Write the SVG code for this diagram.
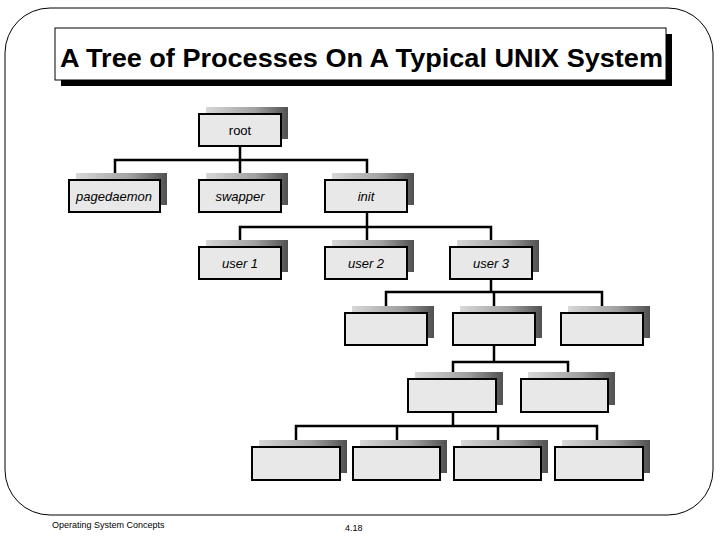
<svg xmlns="http://www.w3.org/2000/svg" width="720" height="540" viewBox="0 0 720 540">
<defs>
<linearGradient id="sg" x1="0" y1="0" x2="1" y2="0"><stop offset="0" stop-color="#d8d8d8"/><stop offset="0.6" stop-color="#a0a0a0"/><stop offset="1" stop-color="#505050"/></linearGradient>
<style>
.sh{fill:url(#sg)}
.bx{fill:#e8e8e8;stroke:#000;stroke-width:2}
.t{font-family:"Liberation Sans",Arial,sans-serif;font-size:13px;font-style:italic;text-anchor:middle}
.c{fill:none;stroke:#000;stroke-width:2.5}
</style>
</defs>
<rect width="720" height="540" fill="#fff"/>
<rect x="5" y="8" width="708" height="507" rx="45" fill="none" stroke="#000" stroke-width="1"/>
<rect x="61" y="34" width="611" height="52" fill="#000"/>
<rect x="55" y="28" width="611" height="52" fill="#fff" stroke="#000" stroke-width="1"/>
<text x="60" y="67" font-family="Liberation Sans,Arial,sans-serif" font-weight="bold" font-size="26" textLength="603" lengthAdjust="spacingAndGlyphs">A Tree of Processes On A Typical UNIX System</text>
<g id="connectors">
<path class="c" d="M240 146V160M115 180V160H367V180M240 160V180"/>
<path class="c" d="M367 212V227M240 247V227H491V247M367 227V247"/>
<path class="c" d="M491 279V292M386 313V292H602V313M494 292V313"/>
<path class="c" d="M494 345V362M453 379V362H568V379"/>
<path class="c" d="M453 412V426M296 447V426H597V447M397 426V447M498 426V447"/>
</g>
<g id="root"><rect class="sh" x="206" y="107" width="82" height="32"/><rect class="bx" x="199" y="114" width="82" height="32"/><text class="t" x="240" y="135" style="font-style:normal">root</text></g>
<g id="pagedaemon"><rect class="sh" x="76" y="173" width="91" height="32"/><rect class="bx" x="69" y="180" width="91" height="32"/><text class="t" x="114" y="201">pagedaemon</text></g>
<g id="swapper"><rect class="sh" x="206" y="173" width="82" height="32"/><rect class="bx" x="199" y="180" width="82" height="32"/><text class="t" x="240" y="201">swapper</text></g>
<g id="init"><rect class="sh" x="332" y="173" width="82" height="32"/><rect class="bx" x="325" y="180" width="82" height="32"/><text class="t" x="366" y="201">init</text></g>
<g id="user1"><rect class="sh" x="206" y="240" width="82" height="32"/><rect class="bx" x="199" y="247" width="82" height="32"/><text class="t" x="240" y="268">user 1</text></g>
<g id="user2"><rect class="sh" x="332" y="240" width="82" height="32"/><rect class="bx" x="325" y="247" width="82" height="32"/><text class="t" x="366" y="268">user 2</text></g>
<g id="user3"><rect class="sh" x="457" y="240" width="82" height="32"/><rect class="bx" x="450" y="247" width="82" height="32"/><text class="t" x="491" y="268">user 3</text></g>
<g id="n4a"><rect class="sh" x="352" y="306" width="82" height="32"/><rect class="bx" x="345" y="313" width="82" height="32"/></g>
<g id="n4b"><rect class="sh" x="460" y="306" width="82" height="32"/><rect class="bx" x="453" y="313" width="82" height="32"/></g>
<g id="n4c"><rect class="sh" x="568" y="306" width="82" height="32"/><rect class="bx" x="561" y="313" width="82" height="32"/></g>
<g id="n5a"><rect class="sh" x="415" y="372" width="88" height="33"/><rect class="bx" x="408" y="379" width="88" height="33"/></g>
<g id="n5b"><rect class="sh" x="528" y="372" width="87" height="33"/><rect class="bx" x="521" y="379" width="87" height="33"/></g>
<g id="n6a"><rect class="sh" x="259" y="440" width="88" height="33"/><rect class="bx" x="252" y="447" width="88" height="33"/></g>
<g id="n6b"><rect class="sh" x="360" y="440" width="87" height="33"/><rect class="bx" x="353" y="447" width="87" height="33"/></g>
<g id="n6c"><rect class="sh" x="461" y="440" width="87" height="33"/><rect class="bx" x="454" y="447" width="87" height="33"/></g>
<g id="n6d"><rect class="sh" x="562" y="440" width="88" height="33"/><rect class="bx" x="555" y="447" width="88" height="33"/></g>
<text x="52" y="528" font-family="Liberation Sans,Arial,sans-serif" font-size="9">Operating System Concepts</text>
<text x="345" y="531" font-family="Liberation Sans,Arial,sans-serif" font-size="9">4.18</text>
</svg>
